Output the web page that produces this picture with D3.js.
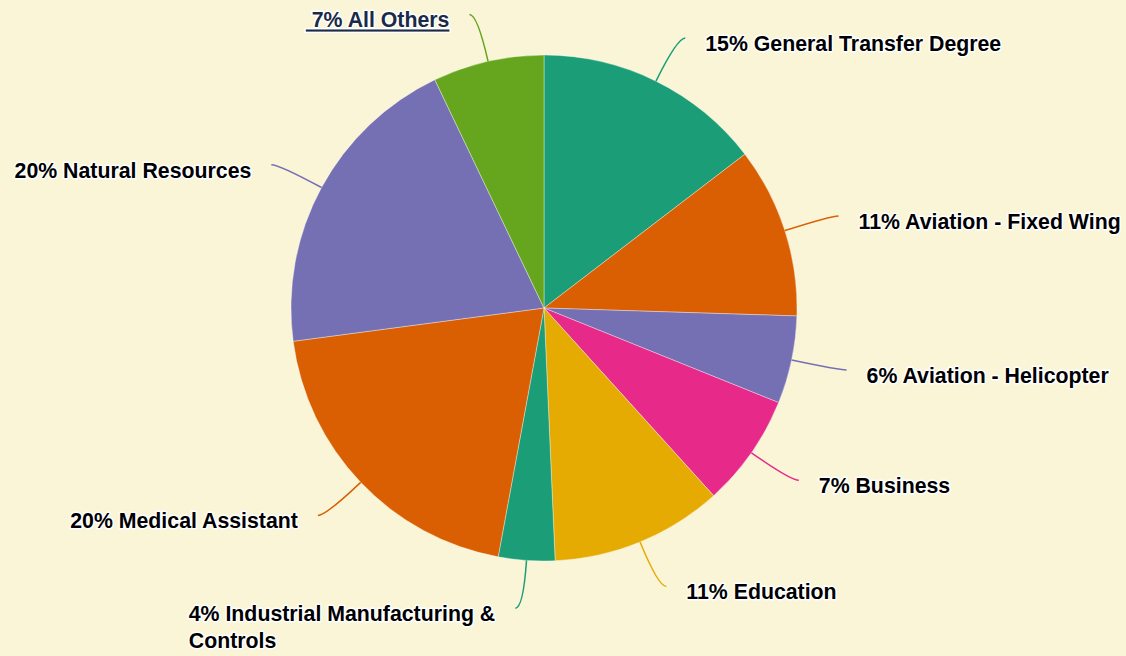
<!DOCTYPE html>
<html>
<head>
<meta charset="utf-8">
<script src="https://cdn.jsdelivr.net/npm/d3@7"></script>
<style>
  html, body { margin: 0; padding: 0; background: #faf5d7; }
  #chart { width: 1126px; height: 656px; }
  text { font-family: "Liberation Sans", Arial, Helvetica, sans-serif; font-weight: bold; }
</style>
</head>
<body>
<div id="chart"></div>
<script>
// programs (clockwise from 12 o'clock) and their share
var programs = ["General Transfer Degree", "Aviation - Fixed Wing", "Aviation - Helicopter",
                "Business", "Education", "Industrial Manufacturing & Controls",
                "Medical Assistant", "Natural Resources", "All Others"];
var shares = [14.6, 10.9, 5.6, 7.2, 11.0, 3.6, 20.0, 20.0, 7.1];
var sliceColors = ["#1b9e77", "#d95f02", "#7570b3", "#e7298a", "#e6ab02",
                   "#1b9e77", "#d95f02", "#7570b3", "#66a61e"];
var linked = ["All Others"];

window.onload = function(){
    drawPie("chart");
}

function drawPie(id){
    var width = 1126, height = 656;
    var cx = 544, cy = 308;
    var radius = 253;

    var svg = d3.select("#" + id)
        .append("svg").attr("width", width).attr("height", height)
        .append("g").attr("transform", "translate(" + cx + "," + cy + ")");

    var data = programs.map(function(p, i){ return {name: p, value: shares[i]}; });
    var total = d3.sum(shares);

    var color = d3.scaleOrdinal().domain(d3.range(programs.length)).range(sliceColors);

    var pie = d3.pie().sort(null).value(function(d){ return d.value; });
    var arcs = pie(data);

    var arc = d3.arc().innerRadius(0).outerRadius(radius);

    svg.selectAll("path.slice").data(arcs).enter().append("path")
        .attr("class", "slice")
        .attr("d", arc)
        .attr("fill", function(d, i){ return color(i); })
        .attr("stroke", "#ffffff")
        .attr("stroke-opacity", 0.6)
        .attr("stroke-width", 0.6);

    // leader lines: radial out from the slice edge, bending horizontally at the end
    function pt(a, r){ return [Math.sin(a) * r, -Math.cos(a) * r]; }

    arcs.forEach(function(d, i){
        var mid = (d.startAngle + d.endAngle) / 2;
        var right = mid < Math.PI;
        var s = pt(mid, radius);
        var c = pt(mid, radius + 48);
        var e = [c[0] + (right ? 8 : -8), c[1]];

        var p = d3.path();
        p.moveTo(s[0], s[1]);
        p.quadraticCurveTo(c[0], c[1], e[0], e[1]);
        svg.append("path")
            .attr("d", p.toString())
            .attr("fill", "none")
            .attr("stroke", color(i))
            .attr("stroke-width", 1.5);

        var pct = Math.round(d.data.value / total * 100) + "% ";
        var isLink = linked.indexOf(d.data.name) >= 0;

        var label = svg.append("text")
            .attr("font-size", "21.3px")
            .attr("fill", isLink ? "#1b2a47" : "#000")
            .attr("stroke", "#fff")
            .attr("stroke-width", 3)
            .attr("stroke-linejoin", "round")
            .attr("paint-order", "stroke");

        var x0, y0 = e[1] + 13;
        if (isLink) {
            label.append("tspan")
                .attr("text-decoration", "underline")
                .text("\u00a0" + pct + d.data.name);
            var lw = label.node().getComputedTextLength();
            x0 = right ? e[0] + 20 : e[0] - 20 - lw;
            label.attr("x", x0).attr("y", y0);
        } else {
            var tsp = wrapWords(label, pct + d.data.name, 330);
            var bw = d3.max(tsp.nodes(), function(n){ return n.getComputedTextLength(); });
            x0 = right ? e[0] + 20 : e[0] - 20 - bw;
            tsp.attr("x", x0)
                .attr("y", function(l, k){ return y0 + k * 27; });
        }
    });
}

// split a label into lines that fit maxWidth
function wrapWords(textSel, str, maxWidth){
    var words = str.split(" ");
    var lines = [];
    var line = [];
    var probe = textSel.append("tspan");
    words.forEach(function(w){
        line.push(w);
        probe.text(line.join(" "));
        if (probe.node().getComputedTextLength() > maxWidth && line.length > 1) {
            line.pop();
            lines.push(line.join(" "));
            line = [w];
        }
    });
    lines.push(line.join(" "));
    probe.remove();
    return textSel.selectAll("tspan").data(lines).enter().append("tspan").text(function(l){ return l; });
}
</script>
</body>
</html>
